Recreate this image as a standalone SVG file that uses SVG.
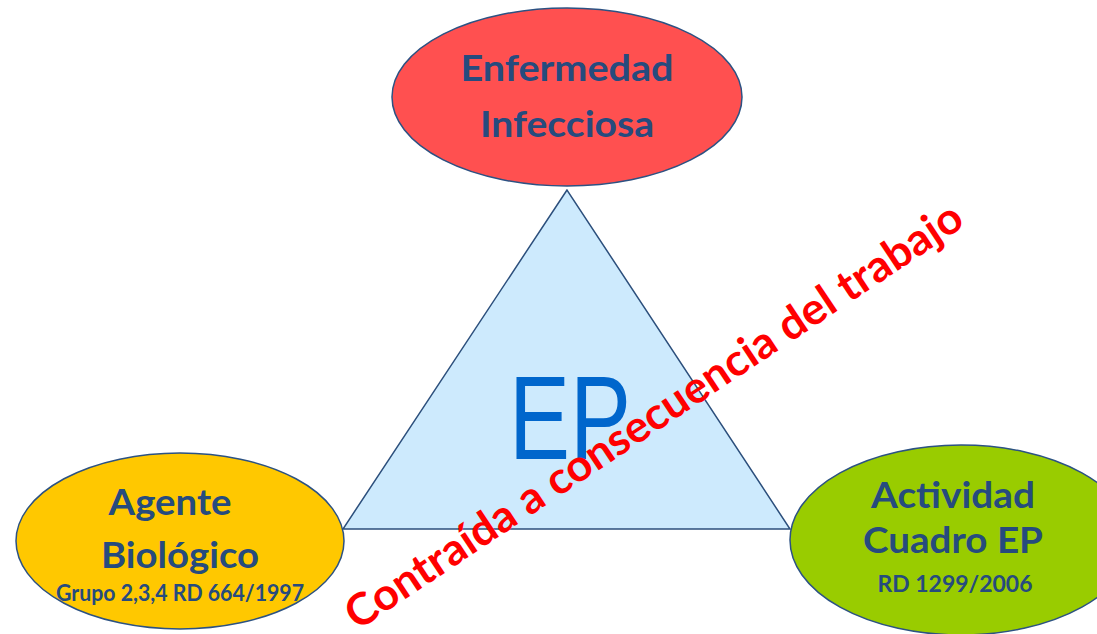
<svg xmlns="http://www.w3.org/2000/svg" width="1097" height="634" viewBox="0 0 1097 634">
<style>
.node{stroke:#2c5283;stroke-width:1.5}
.lbl{font-family:Lato,"Liberation Sans",sans-serif;font-weight:bold;fill:#264b7e;text-anchor:middle}
.big{font-size:37px}
.small{font-size:22px}
</style>
<rect width="1097" height="634" fill="#ffffff"/>
<g id="connectors">
<polygon id="triangle" points="567,190 343,529 790,529" fill="#cdeafd" stroke="#2c4f7c" stroke-width="1.5"/>
</g>
<g id="ep">
<text x="570" y="459" font-family="'Liberation Sans',sans-serif" font-size="118" fill="#0066cc" text-anchor="middle" textLength="122" lengthAdjust="spacingAndGlyphs">EP</text>
</g>
<g id="enfermedad">
<ellipse class="node" cx="567" cy="97" rx="175" ry="89" fill="#ff5050"/>
<text class="lbl big" x="567" y="81" textLength="213" lengthAdjust="spacingAndGlyphs">Enfermedad</text>
<text class="lbl big" x="567" y="137" textLength="174" lengthAdjust="spacingAndGlyphs">Infecciosa</text>
</g>
<g id="agente">
<ellipse class="node" cx="180" cy="541" rx="164" ry="88" fill="#ffc800"/>
<text class="lbl big" x="170" y="515" textLength="123" lengthAdjust="spacingAndGlyphs">Agente</text>
<text class="lbl big" x="180" y="568" textLength="158" lengthAdjust="spacingAndGlyphs">Biológico</text>
<text class="lbl small" x="180" y="601" textLength="248" lengthAdjust="spacingAndGlyphs">Grupo 2,3,4 RD 664/1997</text>
</g>
<g id="actividad">
<ellipse class="node" cx="961" cy="540" rx="171" ry="95" fill="#99cc00"/>
<text class="lbl big" x="953" y="508" textLength="164" lengthAdjust="spacingAndGlyphs">Actividad</text>
<text class="lbl big" x="953" y="553" textLength="180" lengthAdjust="spacingAndGlyphs">Cuadro EP</text>
<text class="lbl small" x="955" y="592" textLength="155" lengthAdjust="spacingAndGlyphs">RD 1299/2006</text>
</g>
<g id="contraida">
<text transform="translate(662,428) rotate(-33.7)" x="0" y="0" font-family="Lato,'Liberation Sans',sans-serif" font-weight="bold" font-size="44" fill="#ff0000" text-anchor="middle" textLength="732" lengthAdjust="spacingAndGlyphs">Contraída a consecuencia del trabajo</text>
</g>
</svg>
